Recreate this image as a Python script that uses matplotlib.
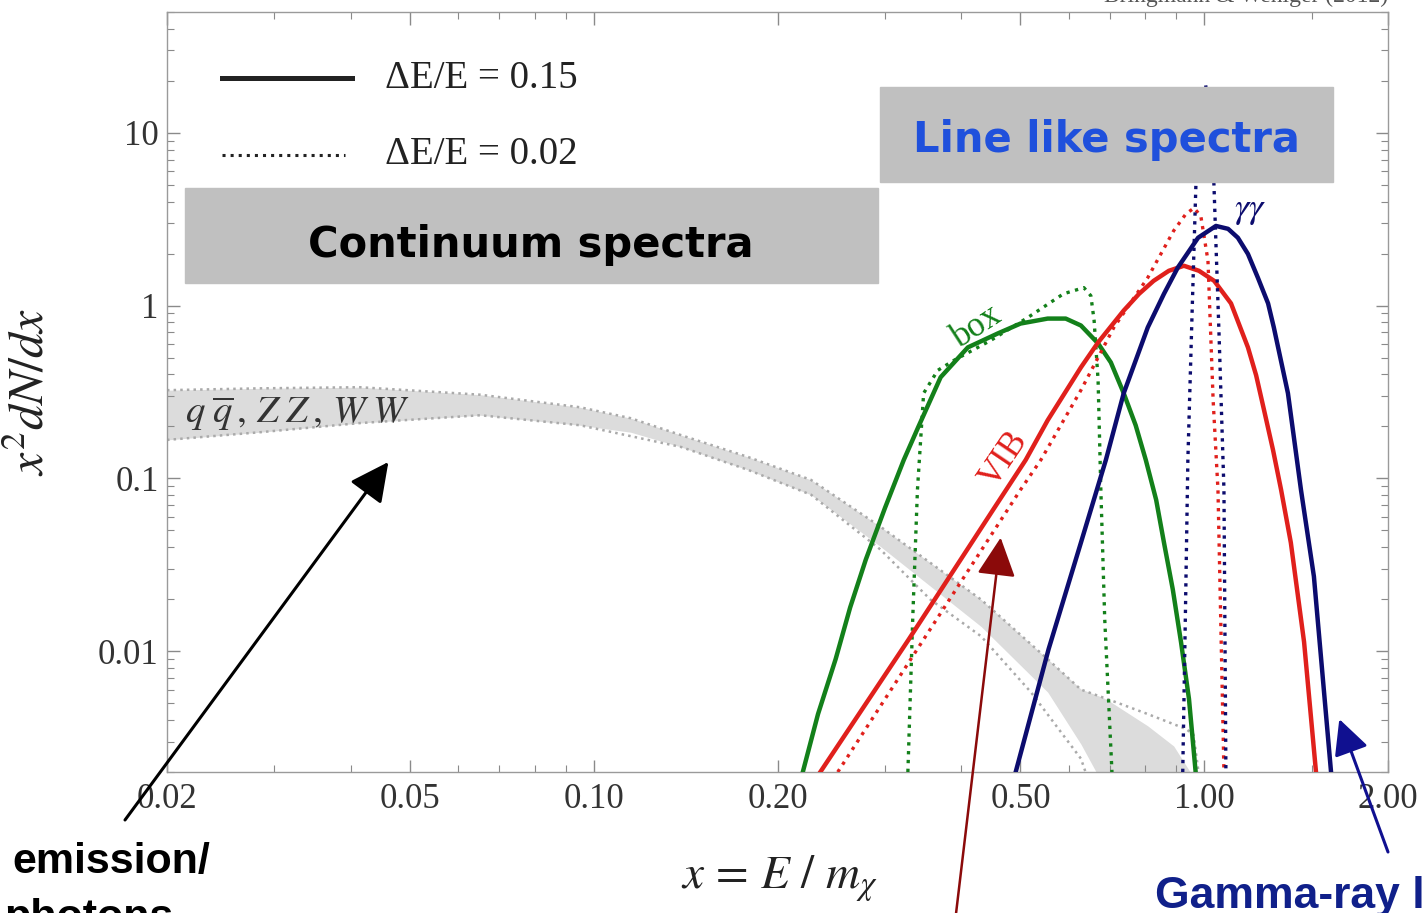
import matplotlib
matplotlib.use('Agg')
import matplotlib.pyplot as plt
from matplotlib.patches import Rectangle
from matplotlib.lines import Line2D
from matplotlib.ticker import FixedLocator, FixedFormatter, LogLocator, NullFormatter

plt.rcParams['mathtext.fontset'] = 'stix'
plt.rcParams['font.family'] = ['Liberation Serif', 'DejaVu Serif']

# continuum band (q qbar, ZZ, WW)
band_x = [0.020, 0.0284, 0.0414, 0.0652, 0.095, 0.115, 0.139, 0.179, 0.227, 0.295,
          0.431, 0.554, 0.628, 0.682, 0.703, 0.808, 0.891, 0.987]
band_hi = [0.324, 0.332, 0.337, 0.305, 0.258, 0.223, 0.178, 0.133, 0.098, 0.0525,
           0.0199, 0.0090, 0.00604, 0.0054, 0.00508, 0.00370, 0.00283, 0.0016]
band_lo = [0.167, 0.185, 0.209, 0.232, 0.203, 0.185, 0.152, 0.112, 0.0804, 0.0403,
           0.0139, 0.0058, 0.0029, 0.0017, 0.0015, 0.0015, 0.0015, 0.0015]
cont_dot_hi_x = [0.020, 0.0284, 0.0414, 0.0652, 0.095, 0.115, 0.139, 0.179, 0.227, 0.295,
                 0.431, 0.554, 0.628, 0.703, 0.808, 0.933, 0.960, 0.987]
cont_dot_hi_y = [0.324, 0.332, 0.337, 0.305, 0.258, 0.223, 0.178, 0.133, 0.098, 0.0525,
                 0.0199, 0.0090, 0.0060, 0.0052, 0.00433, 0.00355, 0.0033, 0.0016]
cont_dot_lo_x = [0.020, 0.0284, 0.0414, 0.0652, 0.095, 0.139, 0.179, 0.227, 0.295,
                 0.356, 0.431, 0.520, 0.628, 0.652]
cont_dot_lo_y = [0.167, 0.185, 0.209, 0.232, 0.203, 0.152, 0.112, 0.0804, 0.0387,
                 0.0199, 0.0122, 0.0058, 0.00239, 0.00163]

# box spectra
box_x = [0.220, 0.233, 0.249, 0.263, 0.279, 0.300, 0.322, 0.340, 0.370, 0.410, 0.459,
         0.500, 0.554, 0.593, 0.628, 0.670, 0.703, 0.738, 0.772, 0.802, 0.834, 0.859,
         0.888, 0.916, 0.944, 0.968]
box_y = [0.002, 0.00433, 0.0090, 0.0179, 0.0339, 0.0676, 0.128, 0.198, 0.385, 0.573, 0.690,
         0.787, 0.841, 0.841, 0.767, 0.604, 0.469, 0.311, 0.203, 0.128, 0.0752, 0.0425,
         0.0228, 0.0113, 0.00529, 0.002]
boxd_x = [0.327, 0.333, 0.339, 0.347, 0.366, 0.389, 0.447, 0.514, 0.588, 0.635, 0.652,
          0.660, 0.670, 0.677, 0.687, 0.706]
boxd_y = [0.002, 0.0153, 0.0859, 0.311, 0.422, 0.482, 0.629, 0.853, 1.17, 1.27, 1.14,
          0.82, 0.37, 0.0859, 0.0153, 0.002]

# VIB spectra
vib_x = [0.235, 0.328, 0.452, 0.510, 0.554, 0.628, 0.670, 0.738, 0.782, 0.826, 0.875,
         0.926, 0.980, 1.038, 1.106, 1.179, 1.216, 1.253, 1.296, 1.336, 1.386, 1.457, 1.524]
vib_y = [0.002, 0.0117, 0.0667, 0.128, 0.217, 0.439, 0.612, 0.936, 1.17, 1.39, 1.59,
         1.70, 1.59, 1.39, 1.03, 0.573, 0.395, 0.248, 0.146, 0.0859, 0.0425, 0.0113, 0.002]
vibd_x = [0.251, 0.500, 0.540, 0.628, 0.711, 0.808, 0.891, 0.933, 0.962, 0.987, 1.014,
          1.034, 1.053, 1.064, 1.077]
vibd_y = [0.002, 0.0859, 0.128, 0.324, 0.747, 1.45, 2.71, 3.39, 3.67, 3.30, 1.82,
          0.283, 0.0859, 0.0153, 0.002]

# gamma gamma line
gg_x = [0.491, 0.556, 0.628, 0.690, 0.738, 0.808, 0.859, 0.905, 0.977, 1.045, 1.094,
        1.135, 1.179, 1.224, 1.272, 1.300, 1.371, 1.440, 1.512, 1.613]
gg_y = [0.002, 0.0103, 0.0425, 0.128, 0.311, 0.747, 1.17, 1.66, 2.47, 2.89, 2.78,
        2.47, 1.99, 1.45, 1.03, 0.747, 0.311, 0.0859, 0.0271, 0.002]
ggd_x = [0.922, 0.931, 0.940, 0.955, 0.969, 0.985, 1.005, 1.021, 1.037, 1.057, 1.077, 1.085]
ggd_y = [0.002, 0.0153, 0.128, 0.9, 5.05, 12.0, 19.0, 12.0, 5.05, 0.7, 0.0859, 0.002]

xticks = [0.02, 0.05, 0.10, 0.20, 0.50, 1.00, 2.00]
xticklabels = ['0.02', '0.05', '0.10', '0.20', '0.50', '1.00', '2.00']
xminor = [0.03, 0.04, 0.06, 0.07, 0.08, 0.09, 0.3, 0.4, 0.6, 0.7, 0.8, 0.9, 1.5]
yticks = [0.01, 0.1, 1, 10]
yticklabels = ['0.01', '0.1', '1', '10']

GREEN = '#13801a'
RED = '#e0201c'
NAVY = '#0c0c6e'

fig = plt.figure(figsize=(14.26, 9.13), dpi=100)
ax = fig.add_axes([0.1171, 0.1544, 0.8563, 0.8325])
ax.set_xscale('log')
ax.set_yscale('log')
ax.set_xlim(0.02, 2.0)
ax.set_ylim(0.002, 50)

ax.fill_between(band_x, band_lo, band_hi, color='#dcdcdc', lw=0, zorder=1)
ax.plot(cont_dot_hi_x, cont_dot_hi_y, ls=':', color='#aaaaaa', lw=1.8, zorder=1.5)
ax.plot(cont_dot_lo_x, cont_dot_lo_y, ls=':', color='#aaaaaa', lw=1.8, zorder=1.5)

ax.plot(box_x, box_y, color=GREEN, lw=3.2, zorder=3)
ax.plot(boxd_x, boxd_y, color=GREEN, lw=2.4, ls=':', zorder=3)
ax.plot(vib_x, vib_y, color=RED, lw=3.2, zorder=3)
ax.plot(vibd_x, vibd_y, color=RED, lw=2.4, ls=':', zorder=3)
ax.plot(gg_x, gg_y, color=NAVY, lw=3.2, zorder=3)
ax.plot(ggd_x, ggd_y, color=NAVY, lw=2.4, ls=':', zorder=3)

# curve labels
ax.text(0.425, 0.76, 'box', color=GREEN, fontsize=25, rotation=33,
        ha='center', va='center', zorder=4)
ax.text(0.47, 0.128, 'VIB', color=RED, fontsize=25, rotation=56,
        ha='center', va='center', zorder=4)
ax.text(1.19, 3.55, r'$\gamma\gamma$', color=NAVY, fontsize=26,
        ha='center', va='center', zorder=4)
ax.text(0.0214, 0.236, r'$q\;\overline{q}\,,\,Z\;Z\,,\,W\;W$', color='#333333', fontsize=28,
        ha='left', va='center', zorder=4)

# axes styling (Mathematica-like frame)
for s in ax.spines.values():
    s.set_color('#9a9a9a')
    s.set_linewidth(1.0)
ax.xaxis.set_major_locator(FixedLocator(xticks))
ax.xaxis.set_major_formatter(FixedFormatter(xticklabels))
ax.xaxis.set_minor_locator(FixedLocator(xminor))
ax.xaxis.set_minor_formatter(NullFormatter())
ax.yaxis.set_major_locator(FixedLocator(yticks))
ax.yaxis.set_major_formatter(FixedFormatter(yticklabels))
ax.yaxis.set_minor_locator(LogLocator(base=10, subs=range(2, 10), numticks=20))
ax.yaxis.set_minor_formatter(NullFormatter())
ax.tick_params(which='both', direction='in', top=True, right=True, color='#8a8a8a',
               labelcolor='#333333', labelsize=25)
ax.tick_params(which='major', length=9, width=1.0)
ax.tick_params(which='minor', length=5, width=0.8)
ax.tick_params(axis='x', pad=8)
ax.tick_params(axis='y', pad=6)

ax.set_xlabel(r'$x\,=\,E\ /\ m_\chi$', fontsize=34, color='#222222')
ax.xaxis.set_label_coords(0.502, -0.108)
ax.set_ylabel(r'$x^2 dN/dx$', fontsize=36, color='#222222')
ax.yaxis.set_label_coords(-0.092, 0.50)

# legend
fig.add_artist(Line2D([222 / 1426, 352 / 1426], [1 - 78 / 913] * 2, transform=fig.transFigure,
                      color='#222222', lw=3.6))
fig.add_artist(Line2D([222 / 1426, 345 / 1426], [1 - 155 / 913] * 2, transform=fig.transFigure,
                      color='#222222', lw=2.2, ls=':'))
fig.text(385 / 1426, 1 - 78 / 913, 'ΔE/E = 0.15', fontsize=28, color='#222222', va='center')
fig.text(385 / 1426, 1 - 155 / 913, 'ΔE/E = 0.02', fontsize=28, color='#222222', va='center')

# grey boxes with headings
fig.add_artist(Rectangle((185 / 1426, 1 - 283 / 913), 693 / 1426, 95 / 913,
                         transform=fig.transFigure, color='#c0c0c0', zorder=5))
fig.add_artist(Rectangle((880 / 1426, 1 - 182 / 913), 453 / 1426, 95 / 913,
                         transform=fig.transFigure, color='#c0c0c0', zorder=5))
fig.text(531 / 1426, 1 - 245 / 913, 'Continuum spectra', family='DejaVu Sans', weight='bold',
         fontsize=30, color='black', ha='center', va='center', zorder=6)
fig.text(1106 / 1426, 1 - 140 / 913, 'Line like spectra', family='DejaVu Sans', weight='bold',
         fontsize=30, color='#1f50dc', ha='center', va='center', zorder=6)

# arrows
arrow_kw = dict(arrowstyle='-|>,head_length=0.6,head_width=0.3', shrinkA=0, shrinkB=0)
ax.annotate('', xy=(0.0461, 0.1245), xycoords='data',
            xytext=(125 / 1426, 1 - 820 / 913), textcoords='figure fraction',
            arrowprops=dict(color='black', lw=2.2, mutation_scale=40, **arrow_kw),
            annotation_clip=False, zorder=6)
ax.annotate('', xy=(0.464, 0.0454), xycoords='data',
            xytext=(955 / 1426, -0.01), textcoords='figure fraction',
            arrowprops=dict(color='#8b0a0a', lw=1.8, mutation_scale=40, **arrow_kw),
            annotation_clip=False, zorder=6)
ax.annotate('', xy=(1.664, 0.00405), xycoords='data',
            xytext=(1388 / 1426, 1 - 852 / 913), textcoords='figure fraction',
            arrowprops=dict(color='#101090', lw=2.2, mutation_scale=36, **arrow_kw),
            annotation_clip=False, zorder=6)

# clipped slide text
fig.text(12 / 1426, 1 - 862 / 913, 'emission/', family='Liberation Sans', weight='bold',
         fontsize=31, color='black', va='center')
fig.text(4 / 1426, 1 - 898 / 913, 'photons', family='Liberation Sans', weight='bold',
         fontsize=31, color='black', va='top')
fig.text(1155 / 1426, 1 - 896 / 913, 'Gamma-ray lines', family='Liberation Sans', weight='bold',
         fontsize=32, color='#10208a', va='center')
fig.text(1388 / 1426, 1.004, 'Bringmann & Weniger (2012)', fontsize=17, color='#555555',
         ha='right', va='center')

fig.savefig('out.png', dpi=100)
